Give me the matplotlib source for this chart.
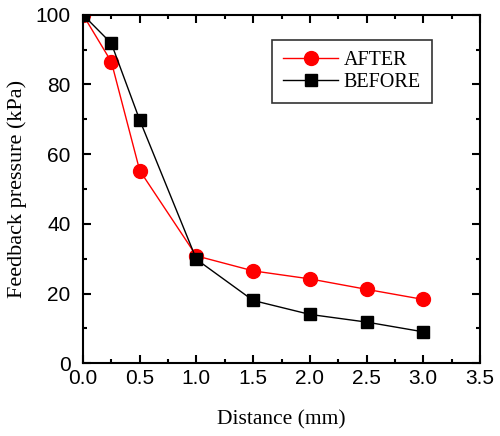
import numpy as np
import matplotlib
matplotlib.use("Agg")
import matplotlib.pyplot as plt
from matplotlib.ticker import MultipleLocator

# data
distance = [0.0, 0.25, 0.5, 1.0, 1.5, 2.0, 2.5, 3.0]
after = [100.0, 86.5, 55.3, 30.8, 26.5, 24.2, 21.2, 18.3]
before = [100.0, 91.8, 69.8, 29.8, 18.0, 14.0, 11.8, 9.0]

fig = plt.figure(figsize=(5, 4.36), dpi=100)
ax = fig.add_axes([0.166, 0.167, 0.794, 0.799])

ax.plot(distance, after, "-o", color="red", lw=1.0, ms=10, label="AFTER")
ax.plot(distance, before, "-s", color="black", lw=1.0, ms=8.5, label="BEFORE")

ax.set_xlim(0, 3.5)
ax.set_ylim(0, 100)
ax.xaxis.set_major_locator(MultipleLocator(0.5))
ax.xaxis.set_minor_locator(MultipleLocator(0.25))
ax.yaxis.set_major_locator(MultipleLocator(20))
ax.yaxis.set_minor_locator(MultipleLocator(10))
ax.tick_params(which="both", direction="in", top=True, right=True, width=1.5)
ax.tick_params(which="major", length=6, labelsize=15)
ax.tick_params(which="minor", length=3)
ax.tick_params(axis="x", which="major", pad=4)
ax.tick_params(axis="y", which="major", pad=9)
for lab in ax.get_xticklabels() + ax.get_yticklabels():
    lab.set_fontfamily("Liberation Sans")
for sp in ax.spines.values():
    sp.set_linewidth(1.5)

ax.set_xlabel("Distance (mm)", fontfamily="Liberation Serif", fontsize=15.5, labelpad=16)
ax.set_ylabel("Feedback pressure (kPa)", fontfamily="Liberation Serif", fontsize=16, labelpad=6)

leg = ax.legend(loc="upper right", bbox_to_anchor=(0.879, 0.928), borderaxespad=0,
                fancybox=False, edgecolor="black",
                prop={"family": "Liberation Serif", "size": 14.5},
                handlelength=2.7, handletextpad=0.3, borderpad=0.55, labelspacing=0.15)
leg.get_frame().set_linewidth(1.2)

fig.savefig("out.png", dpi=100)
